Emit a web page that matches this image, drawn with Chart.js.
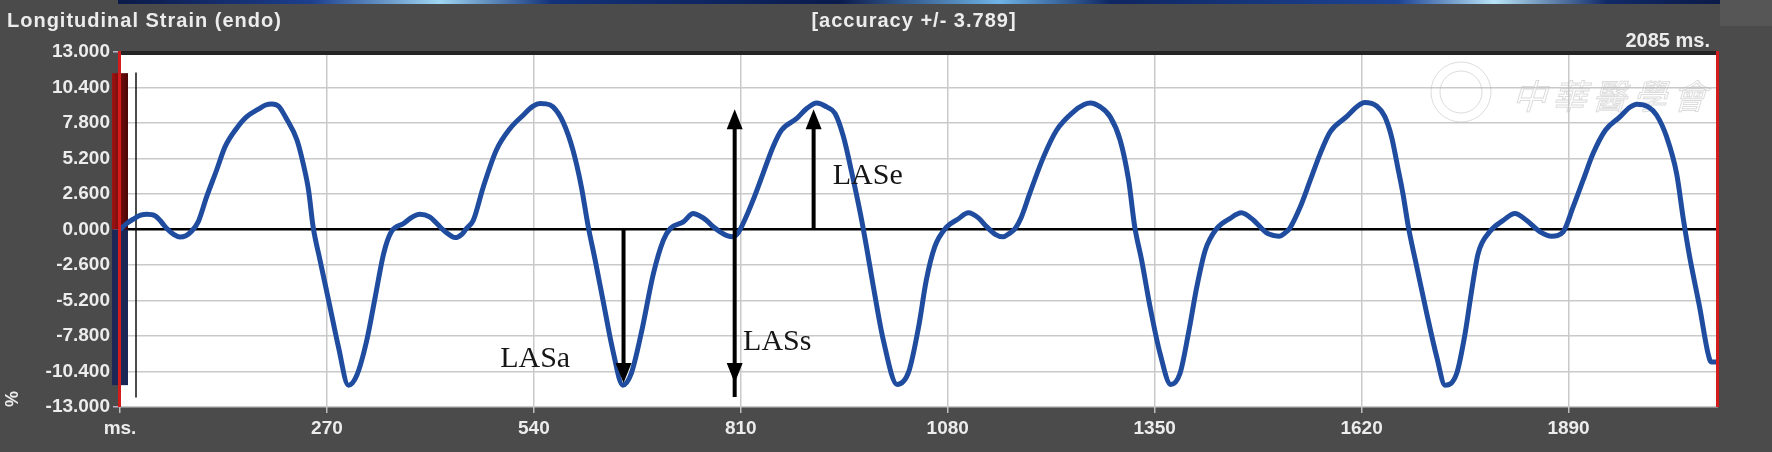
<!DOCTYPE html>
<html>
<head>
<meta charset="utf-8">
<title>Longitudinal Strain (endo)</title>
<script src="https://cdn.jsdelivr.net/npm/chart.js@4.4.1/dist/chart.umd.min.js"></script>
<style>
  html, body { margin: 0; padding: 0; background: #4b4b4b; }
  #wrap { position: relative; width: 1772px; height: 452px; }
</style>
</head>
<body>
<div id="wrap"><canvas id="strainChart" width="1772" height="452"></canvas></div>
<script>
// Strain trace (one row per beat)
const timeMs = [
    0, 9, 17, 27, 35, 46, 54, 61, 70, 78, 86, 93, 102, 113, 126, 137, 152, 165, 180, 190, 198, 207, 217, 231, 239, 246, 252, 261, 274, 285, 298,
    309, 322, 333, 344, 354, 370, 381, 391, 404, 414, 422, 430, 437, 446, 452, 461, 474, 491, 509, 526, 539, 548, 556, 565, 578, 591, 602, 611, 620, 631, 643, 656,
    667, 680, 696, 709, 718, 735, 748, 756, 765, 774, 783, 792, 800, 807, 813, 826, 839, 852, 863, 883, 896, 909, 922, 933, 944, 955, 966, 974, 983, 996, 1014,
    1029, 1042, 1052, 1063, 1078, 1093, 1107, 1120, 1131, 1142, 1152, 1160, 1168, 1176, 1187, 1205, 1222, 1244, 1258, 1266, 1279, 1292, 1305, 1316, 1324, 1333, 1344, 1357, 1371,
    1383, 1394, 1405, 1416, 1431, 1448, 1463, 1479, 1496, 1506, 1513, 1520, 1526, 1540, 1553, 1566, 1579, 1600, 1615, 1624, 1640, 1650, 1659, 1667, 1674, 1681, 1692, 1705, 1718, 1729,
    1744, 1755, 1763, 1772, 1787, 1805, 1820, 1835, 1853, 1868, 1883, 1896, 1909, 1922, 1938, 1957, 1970, 1979, 1994, 2005, 2018, 2031, 2040, 2048, 2061, 2072, 2076, 2085
];
const strainPct = [
    0.00, 0.45, 0.75, 1.05, 1.12, 1.00, 0.55, 0.07, -0.35, -0.55, -0.45, -0.15, 0.56, 2.39, 4.34, 6.05, 7.40, 8.25, 8.79, 9.12, 9.20, 9.03, 8.13, 6.54, 4.83, 2.88, 0.19, -2.25, -5.67, -8.60, -11.40,
    -10.67, -8.11, -4.94, -1.76, -0.17, 0.44, 0.90, 1.12, 0.92, 0.40, -0.05, -0.40, -0.59, -0.35, 0.07, 0.68, 3.12, 5.81, 7.40, 8.37, 9.03, 9.22, 9.20, 8.98, 7.88, 5.81, 3.12, 0.19, -2.25, -5.42, -8.84, -11.40,
    -10.55, -7.62, -3.22, -0.78, 0.07, 0.56, 1.17, 1.00, 0.68, 0.20, -0.17, -0.45, -0.54, -0.20, 0.44, 2.15, 4.10, 6.05, 7.27, 8.13, 8.86, 9.27, 8.98, 8.50, 6.78, 4.10, 1.17, -1.27, -4.20, -8.11, -11.35,
    -10.43, -7.13, -3.71, -1.27, 0.15, 0.75, 1.22, 0.85, 0.19, -0.35, -0.54, -0.30, 0.07, 0.90, 2.64, 5.32, 7.27, 8.62, 9.15, 9.27, 8.98, 8.25, 6.54, 3.61, 0.19, -2.25, -5.67, -9.08, -11.35,
    -10.55, -7.62, -4.20, -1.52, 0.07, 0.80, 1.22, 0.68, -0.25, -0.45, -0.49, -0.25, 0.07, 1.66, 3.61, 5.56, 7.15, 8.25, 9.05, 9.30, 9.03, 8.30, 6.80, 4.60, 2.60, 0.19, -2.74, -6.15, -9.33, -11.40,
    -10.55, -7.62, -4.69, -1.76, -0.17, 0.68, 1.17, 0.68, -0.17, -0.49, -0.17, 1.66, 3.61, 5.56, 7.27, 8.25, 8.95, 9.18, 8.98, 8.37, 6.78, 4.10, 0.68, -2.00, -5.67, -9.08, -9.70, -9.70
];

// Axis ticks
const xTicks = [0, 270, 540, 810, 1080, 1350, 1620, 1890];
const yTicks = [-13, -10.4, -7.8, -5.2, -2.6, 0, 2.6, 5.2, 7.8, 10.4, 13];
const xRange = [0, 2085];
const yRange = [-13, 13];

// Header texts
const headerTitle = 'Longitudinal Strain (endo)';
const headerAccuracy = '[accuracy +/- 3.789]';
const headerDuration = '2085 ms.';
const watermarkText = '中華醫學會';

// LASa / LASs / LASe markers (ms, strain %)
const markerArrows = [
    { ms: 657, from: 0, to: -11.25, bothEnds: false },
    { ms: 802, from: -11.25, to: 8.8, bothEnds: true },
    { ms: 905, from: 0, to: 8.8, bothEnds: false }
];
const markerLabels = [
    { text: 'LASa', ms: 496, value: -10.1 },
    { text: 'LASs', ms: 813, value: -8.85 },
    { text: 'LASe', ms: 930, value: 3.3 }
];

// Gain bar on the left edge (strain range of the trace)
const gainBar = { top: 11.45, bottom: -11.4 };
const cursorLine = { top: 11.5, bottom: -12.3 };

const labelFont = { family: 'Liberation Sans', size: 19, weight: 'bold' };
const labelColor = '#ececec';

const tracePoints = timeMs.map((t, i) => ({ x: t, y: strainPct[i] }));

function drawArrowHead(ctx, x, yTip, dir) {
    // dir = 1 points down, -1 points up
    ctx.beginPath();
    ctx.moveTo(x, yTip);
    ctx.lineTo(x - 8, yTip - dir * 20);
    ctx.lineTo(x + 8, yTip - dir * 20);
    ctx.closePath();
    ctx.fill();
}

const echoDecor = {
    id: 'echoDecor',
    beforeDraw(chart) {
        const { ctx, chartArea: a, width, height } = chart;
        ctx.save();
        ctx.fillStyle = '#4b4b4b';
        ctx.fillRect(0, 0, width, height);
        ctx.fillStyle = '#565656';
        ctx.fillRect(a.right + 2, 0, width - a.right - 2, 26);

        // strip of the echo image above the panel
        const g = ctx.createLinearGradient(a.left, 0, a.right, 0);
        g.addColorStop(0, '#0b1a48');
        g.addColorStop(0.12, '#1d3f8e');
        g.addColorStop(0.2, '#9fd6f2');
        g.addColorStop(0.27, '#13327a');
        g.addColorStop(0.45, '#0a1b4c');
        g.addColorStop(0.55, '#6fb3e6');
        g.addColorStop(0.62, '#0e2661');
        g.addColorStop(0.8, '#1e4494');
        g.addColorStop(0.86, '#b9e4f7');
        g.addColorStop(0.93, '#102a68');
        g.addColorStop(1, '#0b1a48');
        ctx.fillStyle = g;
        ctx.fillRect(a.left - 2, 0, a.right - a.left + 4, 4);

        ctx.fillStyle = '#ffffff';
        ctx.fillRect(a.left, a.top, a.right - a.left, a.bottom - a.top);
        ctx.restore();
    },
    beforeDatasetsDraw(chart) {
        const { ctx, chartArea: a, scales: { y } } = chart;
        ctx.save();

        // watermark
        ctx.strokeStyle = 'rgba(185,185,185,0.5)';
        ctx.lineWidth = 1;
        ctx.beginPath();
        ctx.arc(a.right - 257, a.top + 40, 30, 0, Math.PI * 2);
        ctx.stroke();
        ctx.beginPath();
        ctx.arc(a.right - 257, a.top + 40, 21, 0, Math.PI * 2);
        ctx.stroke();
        ctx.font = '34px "Noto Sans CJK TC"';
        ctx.textBaseline = 'middle';
        ctx.textAlign = 'left';
        ctx.letterSpacing = '6px';
        ctx.setTransform(1, 0, -0.3, 1, 0, 0);
        ctx.strokeText(watermarkText, a.right - 202 + 0.3 * (a.top + 44), a.top + 44);
        ctx.setTransform(1, 0, 0, 1, 0, 0);
        ctx.letterSpacing = '0px';

        // gain bar: dark red above zero, navy below
        const y0 = y.getPixelForValue(0);
        const yTop = y.getPixelForValue(gainBar.top);
        const yBot = y.getPixelForValue(gainBar.bottom);
        const rg = ctx.createLinearGradient(a.left - 8, 0, a.left + 8, 0);
        rg.addColorStop(0, '#a01212');
        rg.addColorStop(1, '#4a0606');
        ctx.fillStyle = rg;
        ctx.fillRect(a.left - 8, yTop, 16, y0 - yTop);
        ctx.fillStyle = '#1c2756';
        ctx.fillRect(a.left - 8, y0, 16, yBot - y0);

        // cursor
        ctx.strokeStyle = '#111';
        ctx.lineWidth = 1.5;
        ctx.beginPath();
        ctx.moveTo(a.left + 16, y.getPixelForValue(cursorLine.top));
        ctx.lineTo(a.left + 16, y.getPixelForValue(cursorLine.bottom));
        ctx.stroke();
        ctx.restore();
    },
    afterDatasetsDraw(chart) {
        const { ctx, chartArea: a, scales: { x, y } } = chart;
        ctx.save();

        // panel borders
        ctx.fillStyle = '#d41c1c';
        ctx.fillRect(a.left - 2, a.top - 1, 3, a.bottom - a.top + 1);
        ctx.fillRect(a.right - 2, a.top - 1, 3, a.bottom - a.top + 1);
        ctx.fillStyle = '#242424';
        ctx.fillRect(a.left + 1, a.top - 1, a.right - a.left - 3, 4);

        // LAS arrows
        ctx.strokeStyle = '#000';
        ctx.fillStyle = '#000';
        ctx.lineWidth = 4;
        markerArrows.forEach(m => {
            const px = x.getPixelForValue(m.ms);
            const yFrom = y.getPixelForValue(m.from);
            const yTo = y.getPixelForValue(m.to);
            const dir = yTo > yFrom ? 1 : -1;
            ctx.beginPath();
            ctx.moveTo(px, m.bothEnds ? yFrom - dir * 14 : yFrom);
            ctx.lineTo(px, yTo - dir * 14);
            ctx.stroke();
            drawArrowHead(ctx, px, yTo, dir);
            if (m.bothEnds) drawArrowHead(ctx, px, yFrom, -dir);
        });

        ctx.fillStyle = '#161616';
        ctx.font = '30px "Liberation Serif"';
        ctx.textAlign = 'left';
        ctx.textBaseline = 'alphabetic';
        markerLabels.forEach(l => {
            ctx.fillText(l.text, x.getPixelForValue(l.ms), y.getPixelForValue(l.value));
        });
        ctx.restore();
    },
    afterDraw(chart) {
        const { ctx, chartArea: a } = chart;
        ctx.save();
        ctx.fillStyle = labelColor;
        ctx.font = 'bold 20px "Liberation Sans"';
        ctx.textBaseline = 'alphabetic';
        ctx.letterSpacing = '1px';
        ctx.textAlign = 'left';
        ctx.fillText(headerTitle, 7, 27);
        ctx.textAlign = 'center';
        ctx.fillText(headerAccuracy, 914, 27);
        ctx.letterSpacing = '0px';
        ctx.textAlign = 'right';
        ctx.fillText(headerDuration, a.right - 8, a.top - 5);

        // unit label of the strain axis
        ctx.translate(13, a.bottom - 8);
        ctx.rotate(-Math.PI / 2);
        ctx.textAlign = 'center';
        ctx.textBaseline = 'middle';
        ctx.font = 'bold 18px "Liberation Sans"';
        ctx.fillText('%', 0, 0);
        ctx.restore();
    }
};

new Chart(document.getElementById('strainChart').getContext('2d'), {
    type: 'line',
    data: {
        datasets: [
            {
                // dark rim of the trace
                data: tracePoints,
                borderColor: '#1f4c9e',
                borderWidth: 5,
                pointRadius: 0,
                cubicInterpolationMode: 'monotone',
                fill: false
            },
            {
                label: 'Longitudinal Strain (endo)',
                data: tracePoints,
                borderColor: '#4a8ae0',
                borderWidth: 2.5,
                pointRadius: 0,
                cubicInterpolationMode: 'monotone',
                fill: false
            }
        ]
    },
    options: {
        responsive: false,
        animation: false,
        events: [],
        layout: { padding: { left: 0, right: 54, top: 52, bottom: 0 } },
        plugins: {
            legend: { display: false },
            tooltip: { enabled: false }
        },
        scales: {
            x: {
                type: 'linear',
                min: xRange[0],
                max: xRange[1],
                afterBuildTicks: scale => { scale.ticks = xTicks.map(v => ({ value: v })); },
                afterFit: scale => { scale.height = 45; },
                border: { display: false },
                grid: {
                    color: '#c9c9c9',
                    lineWidth: 1.5,
                    tickLength: 6,
                    tickColor: '#bdbdbd'
                },
                ticks: {
                    autoSkip: false,
                    maxRotation: 0,
                    padding: 4,
                    color: labelColor,
                    font: labelFont,
                    callback: v => (v === 0 ? 'ms.' : String(v))
                }
            },
            y: {
                type: 'linear',
                min: yRange[0],
                max: yRange[1],
                afterBuildTicks: scale => { scale.ticks = yTicks.map(v => ({ value: v })); },
                afterFit: scale => { scale.width = 120; },
                border: { display: false },
                grid: {
                    color: c => (c.tick && c.tick.value === 0 ? '#000000' : '#c9c9c9'),
                    lineWidth: c => (c.tick && c.tick.value === 0 ? 2.5 : 1.5),
                    tickLength: 7,
                    tickColor: '#b9b4c6'
                },
                ticks: {
                    autoSkip: false,
                    padding: 3,
                    color: labelColor,
                    font: labelFont,
                    callback: v => v.toFixed(3)
                }
            }
        }
    },
    plugins: [echoDecor]
});
</script>
</body>
</html>
